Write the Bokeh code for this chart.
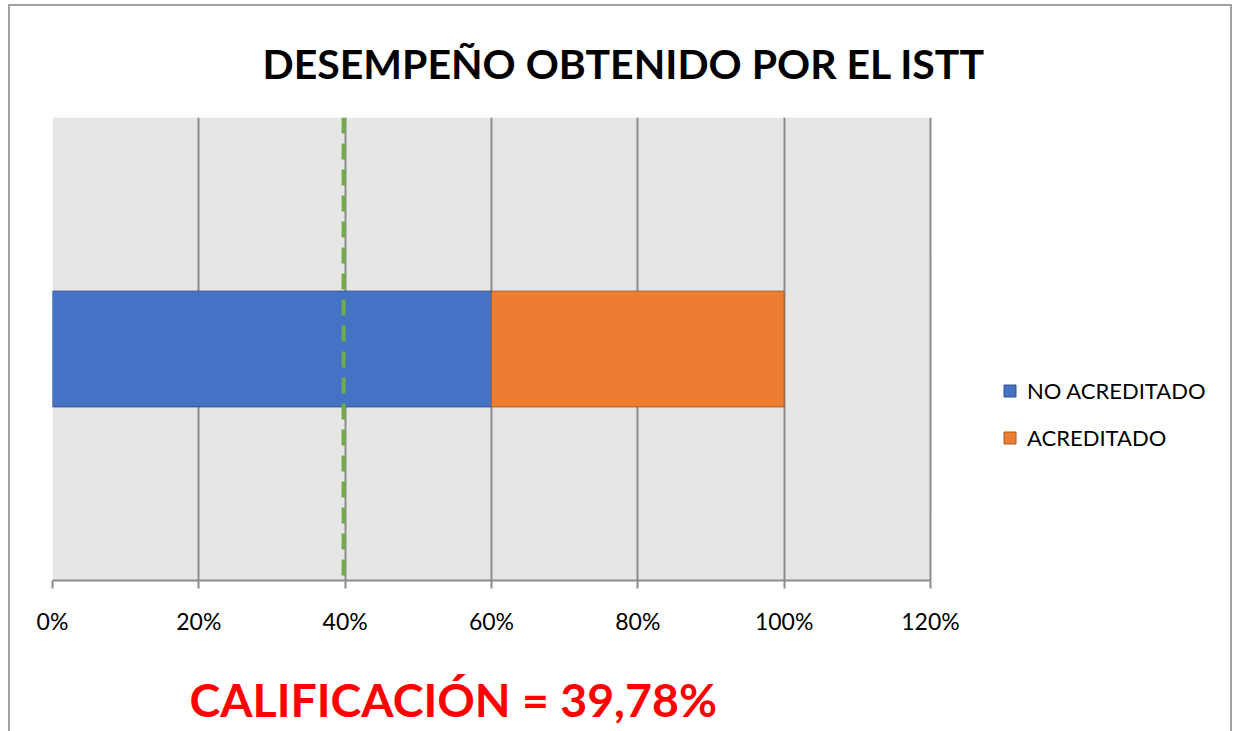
from bokeh.plotting import figure
from bokeh.models import (Range1d, FactorRange, FixedTicker, NumeralTickFormatter,
                          Span, Legend, LegendItem, Title, ColumnDataSource, BoxAnnotation)
from bokeh.embed import file_html
from bokeh.resources import INLINE

categories = ["ISTT"]
no_acreditado = [0.60]
acreditado = [0.40]
series_names = ["NO ACREDITADO", "ACREDITADO"]
calificacion = 0.3978
x_ticks = [0, 0.2, 0.4, 0.6, 0.8, 1.0, 1.2]

FONT = "Lato"
AXIS_MAX = 1.2
FRAME_W = 1176
PLOT_W = 878  # pixel width of the 0..120% area
src = ColumnDataSource(dict(cat=categories, no=no_acreditado, acr=acreditado))

p = figure(frame_width=FRAME_W, frame_height=463, output_backend="svg", toolbar_location=None,
           x_range=Range1d(0, AXIS_MAX * FRAME_W / PLOT_W),
           y_range=FactorRange(factors=categories, range_padding=0),
           min_border_left=42, min_border_right=2, min_border_top=111, min_border_bottom=151)
p.styles = {"border-top": "2px solid #a0a0a0", "border-left": "2px solid #a0a0a0",
            "border-right": "2px solid #a0a0a0", "margin-left": "8px", "margin-top": "4px"}

p.add_layout(BoxAnnotation(left=0, right=AXIS_MAX, fill_color="#E7E6E6", fill_alpha=1,
                           line_color=None, level="image"))

r = p.hbar_stack(["no", "acr"], y="cat", height=0.25, source=src,
                 fill_color=["#4472C4", "#ED7D31"], line_color=["#2F528F", "#AE5A21"], line_width=1)

p.background_fill_color = "#FFFFFF"
p.outline_line_color = None
p.ygrid.visible = False
p.yaxis.visible = False
p.xgrid.ticker = FixedTicker(ticks=x_ticks)
p.xgrid.grid_line_color = "#8c8c8c"
p.xgrid.grid_line_width = 2

ax = p.xaxis[0]
ax.ticker = FixedTicker(ticks=x_ticks)
ax.bounds = (0, AXIS_MAX)
ax.formatter = NumeralTickFormatter(format="0%")
ax.axis_line_color = "#8c8c8c"
ax.axis_line_width = 2
ax.major_tick_line_color = "#8c8c8c"
ax.major_tick_line_width = 2
ax.major_tick_out = 8
ax.major_tick_in = 0
ax.minor_tick_line_color = None
ax.major_label_text_font = FONT
ax.major_label_text_font_size = "23px"
ax.major_label_text_color = "#000000"
ax.major_label_standoff = 18

p.add_layout(Span(location=calificacion, dimension="height", line_color="#70AD47",
                  line_width=4, line_dash="16 10"))

p.title = Title(text="DESEMPEÑO OBTENIDO POR EL ISTT", text_font=FONT, text_font_size="41px",
                text_font_style="bold", text_color="#000000", align="left", offset=210,
                standoff=56, vertical_align="top")

p.add_layout(Title(text="CALIFICACIÓN = 39,78%", text_font=FONT, text_font_size="46.5px",
                   text_font_style="bold", text_color="#FF0000", align="left", offset=137,
                   standoff=63), "below")

legend = Legend(items=[LegendItem(label=series_names[i], renderers=[r[i]]) for i in range(2)],
                location=(950, 129), glyph_width=15, glyph_height=15, label_standoff=10,
                spacing=20, padding=0, margin=0, border_line_color=None,
                background_fill_alpha=0, label_text_font=FONT, label_text_font_size="22px",
                label_text_color="#000000")
p.add_layout(legend, "center")

open("out.html", "w").write(file_html(p, INLINE))
